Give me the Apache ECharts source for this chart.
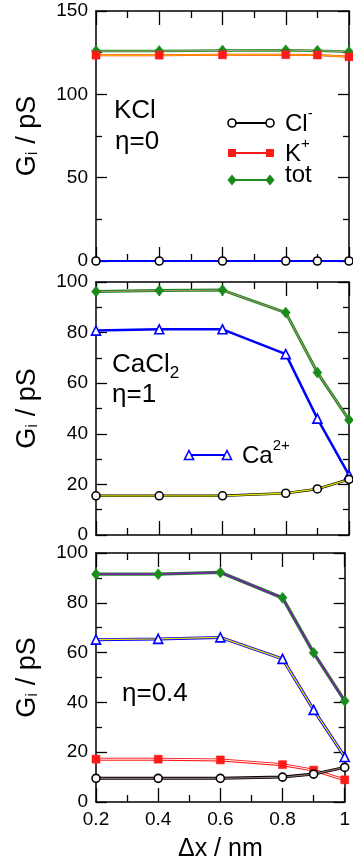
<!DOCTYPE html>
<html>
<head>
<meta charset="utf-8">
<script src="https://cdn.jsdelivr.net/npm/echarts@6/dist/echarts.min.js"></script>
<style>
  html, body { margin: 0; padding: 0; background: #fff; }
  #chart { width: 353px; height: 863px; }
</style>
</head>
<body>
<div id="chart"></div>
<script>
// Displacement of the constriction, nm
const xValues = [0.2, 0.4, 0.6, 0.8, 0.9, 1.0];

// KCl, eta = 0 (conductances in pS)
const kclCl  = [0, 0, 0, 0, 0, 0];
const kclCa  = [0, 0, 0, 0, 0, 0];
const kclK   = [123.5, 123.5, 123.7, 123.8, 123.6, 122.5];
const kclTot = [126.0, 126.0, 126.3, 126.5, 126.2, 125.5];

// CaCl2, eta = 1
const caclCl  = [15.5, 15.5, 15.5, 16.5, 18.2, 22.0];
const caclCa  = [80.8, 81.3, 81.3, 71.5, 46.0, 23.7];
const caclTot = [96.2, 96.6, 96.8, 87.9, 64.2, 45.5];

// Mixture, eta = 0.4
const mixCl  = [9.5, 9.5, 9.5, 10.0, 11.2, 13.9];
const mixK   = [17.2, 17.2, 16.9, 15.0, 12.8, 8.9];
const mixCa  = [65.2, 65.5, 66.1, 57.5, 37.0, 18.1];
const mixTot = [91.5, 91.5, 92.2, 82.0, 59.9, 40.6];

// Axis ranges per panel
const yMaxes = [150, 100, 100];
const yIntervals = [50, 20, 20];

const FONT = '"Liberation Sans", Arial, Helvetica, sans-serif';
const grids = [
  { left: 96, top: 11, width: 253, height: 250 },
  { left: 96, top: 282, width: 253, height: 253 },
  { left: 96, top: 553, width: 253, height: 252 }
];

const axisLineStyle = { color: '#000', width: 1.5 };
const tickLine = { color: '#000', width: 1.3 };

const xAxes = [], yAxes = [];
grids.forEach((g, gi) => {
  const last = gi === grids.length - 1;
  ['bottom', 'top'].forEach(pos => {
    xAxes.push({
      type: 'value', gridIndex: gi, position: pos,
      min: 0.2, max: 1, interval: 0.2,
      axisLine: { show: true, onZero: false, lineStyle: axisLineStyle },
      axisTick: { show: true, inside: true, length: 14, lineStyle: tickLine },
      minorTick: { show: true, splitNumber: 2, length: 7, lineStyle: tickLine },
      splitLine: { show: false },
      axisLabel: {
        show: last && pos === 'bottom', margin: 8,
        fontFamily: FONT, fontSize: 19, color: '#000',
        formatter: v => String(+v.toFixed(1))
      },
      name: last && pos === 'bottom' ? 'Δx / nm' : '',
      nameLocation: 'middle', nameGap: 35,
      nameTextStyle: { fontFamily: FONT, fontSize: 25, color: '#000' }
    });
  });
  ['left', 'right'].forEach(pos => {
    yAxes.push({
      type: 'value', gridIndex: gi, position: pos,
      min: 0, max: yMaxes[gi], interval: yIntervals[gi],
      axisLine: { show: true, onZero: false, lineStyle: axisLineStyle },
      axisTick: { show: true, inside: true, length: 11, lineStyle: tickLine },
      minorTick: { show: true, splitNumber: 2, length: 6, lineStyle: tickLine },
      splitLine: { show: false },
      axisLabel: {
        show: pos === 'left', margin: 8,
        fontFamily: FONT, fontSize: 19, color: '#000'
      },
      name: pos === 'left' ? '{g|G}{s|i}{g| / pS}' : '',
      nameLocation: 'middle', nameGap: 55,
      nameTextStyle: {
        fontFamily: FONT, color: '#000',
        rich: {
          g: { fontFamily: FONT, fontSize: 27, color: '#000' },
          s: { fontFamily: FONT, fontSize: 17, color: '#000', verticalAlign: 'bottom', padding: [10, 0, 0, 0] }
        }
      }
    });
  });
});

const MARKERS = {
  circle:   { symbol: 'circle',   size: 8,  fill: '#fff' },
  square:   { symbol: 'rect',     size: 8,  fill: null },
  diamond:  { symbol: 'diamond',  size: [9, 11], fill: null },
  triangle: { symbol: 'triangle', size: 9,  fill: '#fff' }
};

const series = [];
let zBase = 2;
// One curve: thick line, thin inner line, then markers on top
function curve(gi, values, color, width, innerColor, innerWidth, marker) {
  const pts = values.map((v, i) => [xValues[i], v]);
  const axes = { xAxisIndex: gi * 2, yAxisIndex: gi * 2 };
  series.push(Object.assign({
    type: 'line', data: pts, symbol: 'none', z: zBase, clip: false,
    lineStyle: { color: color, width: width }, silent: true
  }, axes));
  if (innerColor) {
    series.push(Object.assign({
      type: 'line', data: pts, symbol: 'none', z: zBase + 1, clip: false,
      lineStyle: { color: innerColor, width: innerWidth }, silent: true
    }, axes));
  }
  zBase += 2;
  if (marker) {
    const m = MARKERS[marker];
    series.push(Object.assign({
      type: 'scatter', data: pts, symbol: m.symbol, symbolSize: m.size, z: 60, clip: false,
      itemStyle: { color: m.fill || color, borderColor: color, borderWidth: m.fill ? 1.6 : 0.5, opacity: 1 },
      silent: true
    }, axes));
  }
}

// KCl
curve(0, kclTot, '#1a8a1a', 2.5, '#b3a08c', 1, 'diamond');
curve(0, kclK, '#ff1a1a', 2, '#ffa500', 1.5, 'square');
curve(0, kclCl, '#000', 1.5, null, 0, 'circle');
curve(0, kclCa, '#0000ff', 2.2, null, 0, null);

// CaCl2
curve(1, caclTot, '#1a8a1a', 3, '#b58a80', 1, 'diamond');
curve(1, caclCa, '#0000ff', 2.5, null, 0, 'triangle');
curve(1, caclCl, '#000', 2.6, '#e6e600', 1.3, 'circle');

// eta = 0.4
curve(2, mixTot, '#1a8a1a', 3.4, '#7a1fb0', 1.8, 'diamond');
curve(2, mixCa, '#0000ff', 3, '#f0e000', 1.2, 'triangle');
curve(2, mixK, '#ff1a1a', 3, '#ffffff', 1, 'square');
curve(2, mixCl, '#000', 3, '#8a6a6a', 1.2, 'circle');

// Legend glyphs and panel annotations
const graphic = [];
function legendEntry(x1, x2, y, color, marker, label, rich) {
  graphic.push({ type: 'line', shape: { x1: x1, y1: y, x2: x2, y2: y }, style: { stroke: color, lineWidth: 2 }, z: 10 });
  const m = MARKERS[marker];
  [x1, x2].forEach(x => {
    const w = Array.isArray(m.size) ? m.size[0] : m.size;
    const h = Array.isArray(m.size) ? m.size[1] : m.size;
    if (marker === 'circle') {
      graphic.push({ type: 'circle', shape: { cx: x, cy: y, r: w / 2 }, style: { fill: '#fff', stroke: color, lineWidth: 1.6 }, z: 11 });
    } else if (marker === 'square') {
      graphic.push({ type: 'rect', shape: { x: x - w / 2, y: y - h / 2, width: w, height: h }, style: { fill: color }, z: 11 });
    } else if (marker === 'diamond') {
      graphic.push({ type: 'polygon', shape: { points: [[x, y - h / 2], [x + w / 2, y], [x, y + h / 2], [x - w / 2, y]] }, style: { fill: color }, z: 11 });
    } else if (marker === 'triangle') {
      graphic.push({ type: 'polygon', shape: { points: [[x, y - h / 2], [x + w / 2, y + h / 2], [x - w / 2, y + h / 2]] }, style: { fill: '#fff', stroke: color, lineWidth: 1.6 }, z: 11 });
    }
  });
  graphic.push({
    type: 'text', left: x2 + 15, top: y - 17, z: 11,
    style: { text: label, rich: rich, font: '24px ' + FONT, fill: '#000' }
  });
}

const supRich = {
  b: { fontFamily: FONT, fontSize: 24, color: '#000', lineHeight: 30, verticalAlign: 'bottom' },
  u: { fontFamily: FONT, fontSize: 15, color: '#000', lineHeight: 30, verticalAlign: 'top' }
};

legendEntry(232, 270, 123, '#000', 'circle', '{b|Cl}{u|-}', supRich);
legendEntry(232, 270, 153, '#ff1a1a', 'square', '{b|K}{u|+}', supRich);
legendEntry(232, 270, 180, '#1a8a1a', 'diamond', '{b|tot}', supRich);
legendEntry(189, 227, 455, '#0000ff', 'triangle', '{b|Ca}{u|2+}', supRich);

function panelText(x, y, text, rich) {
  graphic.push({ type: 'text', left: x, top: y, z: 11, style: { text: text, rich: rich, fill: '#000' } });
}
const labRich = {
  t: { fontFamily: FONT, fontSize: 26, color: '#000', lineHeight: 30, verticalAlign: 'top' },
  d: { fontFamily: FONT, fontSize: 17, color: '#000', lineHeight: 30, verticalAlign: 'bottom' }
};
panelText(114, 98, '{t|KCl}', labRich);
panelText(115, 129, '{t|η=0}', labRich);
panelText(112, 352, '{t|CaCl}{d|2}', labRich);
panelText(112, 382, '{t|η=1}', labRich);
panelText(122, 681, '{t|η=0.4}', labRich);

const chart = echarts.init(document.getElementById('chart'), null, { renderer: 'canvas' });
chart.setOption({
  backgroundColor: '#fff',
  animation: false,
  grid: grids,
  xAxis: xAxes,
  yAxis: yAxes,
  series: series,
  graphic: graphic
});
</script>
</body>
</html>
